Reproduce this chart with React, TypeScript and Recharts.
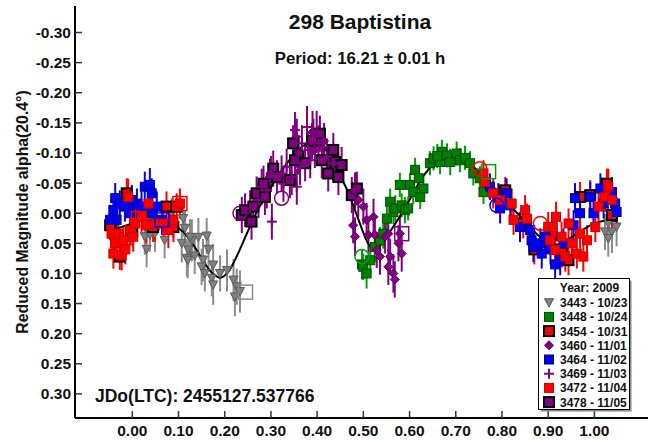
import React from "react"
import { ScatterChart, Scatter, XAxis, YAxis, ErrorBar } from "recharts"

// each point: [phase, reduced magnitude, error]
const s3443 = [
  [0.027, 0.039, 0.03], [0.031, 0.06, 0.03], [0.038, 0.036, 0.028], [0.049, 0.034, 0.03],
  [0.07, 0.045, 0.03], [0.085, 0.0, 0.025], [0.11, 0.009, 0.03], [0.114, 0.025, 0.03],
  [0.107, 0.05, 0.032], [0.121, 0.061, 0.03], [0.129, 0.045, 0.035], [0.118, 0.075, 0.03],
  [0.125, 0.04, 0.03], [0.143, 0.04, 0.032], [0.161, 0.038, 0.03], [0.12, 0.078, 0.03],
  [0.135, 0.071, 0.03], [0.153, 0.078, 0.035], [0.15, 0.089, 0.03], [0.157, 0.1, 0.03],
  [0.175, 0.086, 0.035], [0.172, 0.108, 0.03], [0.175, 0.119, 0.033], [0.219, 0.111, 0.035],
  [0.226, 0.122, 0.03], [0.233, 0.13, 0.035], [0.222, 0.139, 0.032], [0.165, 0.06, 0.03],
  [0.19, 0.1, 0.03], [0.205, 0.095, 0.035], [1.023, 0.031, 0.03], [1.03, 0.017, 0.03],
  [1.038, 0.031, 0.035], [1.03, 0.042, 0.03], [1.048, 0.023, 0.032],
]

const s3448 = [
  [0.497, 0.085, 0.025], [0.5, 0.089, 0.022], [0.507, 0.1, 0.025], [0.515, 0.078, 0.022],
  [0.525, 0.056, 0.025], [0.536, 0.045, 0.022], [0.543, 0.034, 0.025], [0.551, 0.009, 0.02],
  [0.558, -0.019, 0.022], [0.565, -0.002, 0.02], [0.569, -0.008, 0.022], [0.579, -0.047, 0.02],
  [0.583, -0.013, 0.02], [0.59, -0.005, 0.022], [0.597, -0.008, 0.02], [0.601, -0.047, 0.02],
  [0.608, -0.035, 0.02], [0.612, -0.072, 0.02], [0.623, -0.027, 0.02], [0.63, -0.041, 0.022],
  [0.644, -0.083, 0.02], [0.652, -0.091, 0.02], [0.666, -0.085, 0.02], [0.67, -0.102, 0.02],
  [0.681, -0.096, 0.02], [0.688, -0.085, 0.022], [0.702, -0.099, 0.02], [0.709, -0.088, 0.02],
  [0.72, -0.092, 0.02], [0.731, -0.083, 0.02], [0.738, -0.066, 0.02], [0.752, -0.058, 0.02],
  [0.76, -0.035, 0.02], [0.62, -0.058, 0.02], [0.66, -0.095, 0.02],
]

const s3454 = [
  [-0.048, 0.02, 0.025], [-0.027, 0.072, 0.022], [-0.012, -0.033, 0.025], [0.045, 0.023, 0.025],
  [0.074, -0.011, 0.025], [0.096, -0.011, 0.022], [0.089, 0.023, 0.025], [0.0, 0.03, 0.025],
  [0.807, -0.038, 0.022], [0.846, 0.017, 0.025], [0.908, 0.036, 0.025], [0.944, 0.078, 0.025],
  [0.969, -0.027, 0.025], [0.991, -0.03, 0.025], [1.027, -0.049, 0.025], [1.038, 0.003, 0.025],
  [0.87, 0.06, 0.025], [0.93, 0.065, 0.025],
]

const s3460 = [
  [0.482, -0.038, 0.03], [0.489, -0.022, 0.028], [0.478, 0.02, 0.03], [0.482, 0.039, 0.032],
  [0.5, -0.011, 0.03], [0.507, 0.011, 0.028], [0.511, 0.036, 0.03], [0.522, 0.006, 0.03],
  [0.525, 0.036, 0.032], [0.529, 0.061, 0.03], [0.536, 0.072, 0.03], [0.547, 0.039, 0.028],
  [0.554, 0.089, 0.03], [0.558, 0.072, 0.03], [0.565, 0.1, 0.032], [0.576, 0.05, 0.03],
  [0.579, 0.034, 0.03], [0.583, 0.067, 0.03], [0.554, 0.034, 0.03], [0.568, 0.11, 0.03],
  [0.3, -0.065, 0.03], [0.36, -0.1, 0.03], [0.39, -0.135, 0.035], [0.415, -0.12, 0.03],
]

const s3464 = [
  [-0.048, 0.011, 0.025], [-0.041, -0.005, 0.025], [-0.037, -0.025, 0.025], [-0.034, 0.011, 0.025],
  [-0.027, -0.016, 0.022], [-0.016, -0.011, 0.025], [-0.001, -0.022, 0.025], [-0.005, 0.0, 0.022],
  [0.01, -0.016, 0.025], [0.02, -0.011, 0.025], [0.027, -0.044, 0.025], [0.038, -0.047, 0.028],
  [0.042, -0.033, 0.025], [0.042, 0.0, 0.025], [0.053, -0.011, 0.025], [0.064, 0.011, 0.025],
  [0.774, -0.044, 0.022], [0.792, -0.025, 0.025], [0.81, -0.033, 0.025], [0.818, -0.013, 0.022],
  [0.796, -0.008, 0.025], [0.839, 0.023, 0.025], [0.854, 0.011, 0.025], [0.861, 0.028, 0.025],
  [0.864, 0.045, 0.022], [0.868, 0.056, 0.025], [0.883, 0.05, 0.025], [0.886, 0.067, 0.025],
  [0.894, 0.039, 0.025], [0.926, 0.078, 0.025], [0.933, 0.05, 0.025], [0.955, 0.02, 0.025],
  [0.958, -0.025, 0.025], [0.969, 0.0, 0.025], [0.991, -0.027, 0.025], [0.998, 0.0, 0.025],
  [1.013, -0.041, 0.025], [1.02, -0.016, 0.025], [1.038, -0.035, 0.025], [1.045, -0.016, 0.025],
  [1.048, -0.002, 0.025], [0.905, 0.06, 0.025], [0.915, 0.085, 0.025],
]

const s3469 = [
  [0.255, -0.008, 0.03], [0.28, -0.044, 0.03], [0.302, 0.014, 0.03], [0.298, -0.06, 0.03],
  [0.323, -0.066, 0.03], [0.327, -0.049, 0.03], [0.356, -0.044, 0.03], [0.345, -0.06, 0.03],
  [0.352, -0.138, 0.03], [0.356, -0.127, 0.03], [0.367, -0.116, 0.03], [0.378, -0.143, 0.035],
  [0.381, -0.105, 0.03], [0.392, -0.127, 0.03], [0.399, -0.135, 0.035], [0.403, -0.116, 0.03],
  [0.395, -0.105, 0.03], [0.413, -0.11, 0.03], [0.421, -0.094, 0.03], [0.385, -0.088, 0.03],
  [0.363, -0.077, 0.03], [0.435, -0.083, 0.03], [0.334, -0.077, 0.03], [0.291, -0.038, 0.03],
  [0.273, -0.022, 0.03],
]

const s3472 = [
  [-0.045, 0.034, 0.025], [-0.03, 0.034, 0.025], [-0.037, 0.05, 0.028], [-0.041, 0.067, 0.025],
  [-0.023, 0.07, 0.025], [-0.019, 0.045, 0.025], [-0.005, 0.028, 0.025], [0.002, 0.039, 0.025],
  [0.006, 0.017, 0.03], [0.02, 0.006, 0.03], [0.035, -0.016, 0.035], [0.049, 0.017, 0.03],
  [0.067, 0.017, 0.03], [0.078, 0.028, 0.03], [0.089, 0.011, 0.03], [0.103, -0.016, 0.025],
  [-0.009, -0.027, 0.03], [0.03, 0.02, 0.03], [-0.015, 0.06, 0.025],
  [0.76, -0.066, 0.022], [0.763, -0.052, 0.022], [0.781, -0.033, 0.025], [0.796, -0.022, 0.025],
  [0.821, -0.016, 0.025], [0.825, 0.011, 0.025], [0.85, -0.005, 0.025], [0.854, 0.009, 0.025],
  [0.9, 0.023, 0.025], [0.904, 0.045, 0.025], [0.915, 0.061, 0.025], [0.929, 0.039, 0.025],
  [0.937, 0.072, 0.025], [0.951, 0.05, 0.025], [0.962, 0.067, 0.025], [0.976, 0.072, 0.025],
  [0.984, 0.045, 0.025], [1.002, 0.023, 0.025], [1.009, -0.011, 0.025], [1.023, -0.027, 0.025],
  [1.03, -0.044, 0.03], [1.038, -0.022, 0.025], [0.91, 0.023, 0.025], [0.917, 0.006, 0.025],
  [0.944, 0.017, 0.025], [0.969, 0.034, 0.025],
]

const s3478 = [
  [0.237, 0.003, 0.03], [0.244, -0.005, 0.028], [0.258, 0.014, 0.03], [0.262, -0.011, 0.03],
  [0.269, -0.033, 0.028], [0.284, -0.049, 0.03], [0.287, -0.027, 0.03], [0.305, -0.074, 0.03],
  [0.313, -0.06, 0.028], [0.341, -0.055, 0.03], [0.348, -0.116, 0.03], [0.359, -0.094, 0.03],
  [0.352, -0.088, 0.028], [0.374, -0.083, 0.03], [0.406, -0.132, 0.03], [0.41, -0.088, 0.03],
  [0.424, -0.066, 0.03], [0.435, -0.105, 0.028], [0.439, -0.085, 0.03], [0.446, -0.06, 0.03],
  [0.453, -0.08, 0.03], [0.475, -0.03, 0.03], [0.486, -0.041, 0.028], [0.389, -0.12, 0.03],
]

// hollow markers [phase, mag, session]
const openSquares = [
  [0.245, 0.131, "3443"], [0.103, -0.016, "3472"], [0.013, 0.009, "3472"],
  [0.064, 0.011, "3464"], [0.583, 0.034, "3460"], [0.771, -0.069, "3448"],
]
const openCircles = [
  [0.233, 0.0, "3469"], [0.323, -0.025, "3469"], [0.497, 0.072, "3448"],
  [0.752, -0.074, "3472"], [0.789, -0.013, "3464"], [0.883, 0.017, "3472"],
]

// fourier fit
const fitCurve = [
  [-0.05, 0.03], [-0.02, 0.022], [0.0, 0.017], [0.03, 0.012], [0.06, 0.013], [0.09, 0.02],
  [0.11, 0.031], [0.13, 0.05], [0.15, 0.075], [0.17, 0.097], [0.19, 0.107], [0.21, 0.095],
  [0.23, 0.065], [0.25, 0.03], [0.27, -0.003], [0.29, -0.03], [0.31, -0.055], [0.33, -0.078],
  [0.35, -0.097], [0.37, -0.112], [0.39, -0.118], [0.41, -0.112], [0.43, -0.092], [0.45, -0.062],
  [0.47, -0.03], [0.49, 0.012], [0.51, 0.05], [0.525, 0.062], [0.54, 0.05], [0.56, 0.028],
  [0.58, 0.004], [0.6, -0.022], [0.62, -0.05], [0.64, -0.072], [0.66, -0.088], [0.68, -0.096],
  [0.7, -0.096], [0.72, -0.088], [0.74, -0.076], [0.76, -0.06], [0.78, -0.045], [0.8, -0.028],
  [0.82, -0.01], [0.84, 0.005], [0.86, 0.022], [0.88, 0.038], [0.9, 0.05], [0.92, 0.052],
  [0.94, 0.045], [0.96, 0.035], [0.98, 0.025], [1.0, 0.017], [1.03, 0.012], [1.05, 0.013],
]

const xTicks = [0, 0.1, 0.2, 0.3, 0.4, 0.5, 0.6, 0.7, 0.8, 0.9, 1.0]
const yTicks = [-0.3, -0.25, -0.2, -0.15, -0.1, -0.05, 0, 0.05, 0.1, 0.15, 0.2, 0.25, 0.3]
const xDomain = [-0.124, 1.116]
const yDomain = [-0.344, 0.34]

const title = "298 Baptistina"
const subtitle = "Period: 16.21 ± 0.01 h"
const yLabel = "Reduced Magnitude alpha(20.4°)"
const epochText = "JDo(LTC): 2455127.537766"
const legendTitle = "Year: 2009"

const FONT = '"Liberation Sans", Arial, Helvetica, sans-serif'

type Pt = { x: number; y: number; err?: number }
const toPts = (arr: number[][]): Pt[] => arr.map(([x, y, e]) => ({ x, y, err: e }))

// marker drawing
const drawMark = (kind: string, cx: number, cy: number, fill: string, stroke: string, sw: number) => {
  if (kind === "tri") {
    return <polygon points={`${cx - 4.5},${cy - 4} ${cx + 4.5},${cy - 4} ${cx},${cy + 4.5}`} fill={fill} stroke={stroke} strokeWidth={sw} />
  }
  if (kind === "diamond") {
    return <polygon points={`${cx},${cy - 4.5} ${cx + 4.5},${cy} ${cx},${cy + 4.5} ${cx - 4.5},${cy}`} fill={fill} stroke={stroke} strokeWidth={sw} />
  }
  if (kind === "plus") {
    return (
      <g stroke={fill} strokeWidth={2}>
        <line x1={cx - 5} x2={cx + 5} y1={cy} y2={cy} />
        <line x1={cx} x2={cx} y1={cy - 5} y2={cy + 5} />
      </g>
    )
  }
  const h = sw > 1.5 ? 5 : 4.5
  return <rect x={cx - h} y={cy - h} width={h * 2} height={h * 2} fill={fill} stroke={stroke} strokeWidth={sw} />
}

const sessions = [
  { key: "3443", label: "3443 - 10/23", data: s3443, kind: "tri", fill: "#808080", stroke: "#5a5a5a", sw: 1, bar: "#8c8c8c" },
  { key: "3448", label: "3448 - 10/24", data: s3448, kind: "square", fill: "#008000", stroke: "#004d00", sw: 1, bar: "#00a000" },
  { key: "3454", label: "3454 - 10/31", data: s3454, kind: "square", fill: "#ff0000", stroke: "#000000", sw: 2, bar: "#ff0000" },
  { key: "3478", label: "3478 - 11/05", data: s3478, kind: "square", fill: "#800080", stroke: "#000000", sw: 2, bar: "#800080" },
  { key: "3460", label: "3460 - 11/01", data: s3460, kind: "diamond", fill: "#800080", stroke: "#5a005a", sw: 1, bar: "#800080" },
  { key: "3464", label: "3464 - 11/02", data: s3464, kind: "square", fill: "#0000ff", stroke: "#00008b", sw: 1, bar: "#0000ff" },
  { key: "3469", label: "3469 - 11/03", data: s3469, kind: "plus", fill: "#800080", stroke: "#800080", sw: 2, bar: "#800080" },
  { key: "3472", label: "3472 - 11/04", data: s3472, kind: "square", fill: "#ff0000", stroke: "#cc0000", sw: 1, bar: "#ff0000" },
]
const legendOrder = ["3443", "3448", "3454", "3460", "3464", "3469", "3472", "3478"]
const colorOf = (k: string) => sessions.find((s) => s.key === k)!.bar

const tickText = { fontFamily: FONT, fontWeight: 700, fontSize: 15.5, fill: "#111" }

const LeftTick = (props: any) => {
  const { x, y, payload } = props
  return (
    <g>
      <line x1={x} x2={x + 7} y1={y} y2={y} stroke="#333" strokeWidth={1.5} />
      <text x={x - 4} y={y} dy={5.5} textAnchor="end" style={tickText}>
        {payload.value.toFixed(2)}
      </text>
    </g>
  )
}
const RightTick = (props: any) => {
  const { x, y } = props
  return <line x1={x - 7} x2={x} y1={y} y2={y} stroke="#333" strokeWidth={1.5} />
}
const BottomTick = (props: any) => {
  const { x, y, payload } = props
  return (
    <g>
      <line x1={x} x2={x} y1={y} y2={y - 7} stroke="#333" strokeWidth={1.5} />
      <text x={x} y={y + 18} textAnchor="middle" style={tickText}>
        {payload.value.toFixed(2)}
      </text>
    </g>
  )
}
const TopTick = (props: any) => {
  const { x, y } = props
  return <line x1={x} x2={x} y1={y} y2={y + 7} stroke="#333" strokeWidth={1.5} />
}

const NoMark = () => <g />

export default function App() {
  const fit = fitCurve.map(([x, y]) => ({ x, y }))
  const openSq = openSquares.map(([x, y, k]) => ({ x: x as number, y: y as number, k: k as string }))
  const openCi = openCircles.map(([x, y, k]) => ({ x: x as number, y: y as number, k: k as string }))

  return (
    <div style={{ position: "absolute", left: 0, top: 0, width: 652, height: 441, background: "#fff" }}>
      <ScatterChart width={652} height={441} margin={{ top: 6, right: 4, bottom: 0, left: 0 }}>
        <XAxis
          xAxisId="b"
          dataKey="x"
          type="number"
          domain={xDomain}
          allowDataOverflow
          ticks={xTicks}
          interval={0}
          height={23}
          tickSize={0}
          tickMargin={0}
          tickLine={false}
          tick={<BottomTick />}
          axisLine={{ stroke: "#000", strokeWidth: 2 }}
        />
        <XAxis
          xAxisId="t"
          orientation="top"
          type="number"
          domain={xDomain}
          allowDataOverflow
          ticks={xTicks}
          interval={0}
          height={0}
          tickSize={0}
          tickMargin={0}
          tickLine={false}
          tick={<TopTick />}
          axisLine={{ stroke: "#333", strokeWidth: 1.5 }}
        />
        <YAxis
          yAxisId="l"
          dataKey="y"
          type="number"
          reversed
          domain={yDomain}
          allowDataOverflow
          ticks={yTicks}
          interval={0}
          width={75}
          tickSize={0}
          tickMargin={0}
          tickLine={false}
          tick={<LeftTick />}
          axisLine={{ stroke: "#000", strokeWidth: 2 }}
        />
        <YAxis
          yAxisId="r"
          orientation="right"
          type="number"
          reversed
          domain={yDomain}
          allowDataOverflow
          ticks={yTicks}
          interval={0}
          width={0}
          tickSize={0}
          tickMargin={0}
          tickLine={false}
          tick={<RightTick />}
          axisLine={{ stroke: "#777", strokeWidth: 2.5 }}
        />

        <Scatter
          xAxisId="b"
          yAxisId="l"
          data={fit}
          line={{ stroke: "#000", strokeWidth: 2 }}
          lineType="joint"
          lineJointType="monotoneX"
          shape={<NoMark />}
          isAnimationActive={false}
        />

        {sessions.map((s) => (
          <Scatter
            key={s.key}
            xAxisId="b"
            yAxisId="l"
            data={toPts(s.data)}
            isAnimationActive={false}
            shape={(p: any) => drawMark(s.kind, p.cx, p.cy, s.fill, s.stroke, s.sw)}
          >
            <ErrorBar dataKey="err" direction="y" width={0} stroke={s.bar} strokeWidth={2} />
          </Scatter>
        ))}

        <Scatter
          xAxisId="b"
          yAxisId="l"
          data={openSq}
          isAnimationActive={false}
          shape={(p: any) => (
            <rect x={p.cx - 7} y={p.cy - 7} width={14} height={14} fill="none" stroke={colorOf(p.payload.k)} strokeWidth={1.5} />
          )}
        />
        <Scatter
          xAxisId="b"
          yAxisId="l"
          data={openCi}
          isAnimationActive={false}
          shape={(p: any) => (
            <circle cx={p.cx} cy={p.cy} r={7} fill="none" stroke={colorOf(p.payload.k)} strokeWidth={1.5} />
          )}
        />
      </ScatterChart>

      <svg width={652} height={441} style={{ position: "absolute", left: 0, top: 0, pointerEvents: "none" }}>
        <g style={{ fontFamily: FONT, fontWeight: 700 }} fill="#111">
          <text x={360} y={29} textAnchor="middle" fontSize={21}>{title}</text>
          <text x={360} y={64} textAnchor="middle" fontSize={16.8}>{subtitle}</text>
          <text x={27.5} y={212} textAnchor="middle" fontSize={15.8} transform="rotate(-90 27.5 212)">{yLabel}</text>
          <text x={95} y={402} fontSize={17.5}>{epochText}</text>
        </g>

        {/* legend box */}
        <rect x={540.5} y={280.5} width={91} height={131} fill="#888" />
        <rect x={538.5} y={278.5} width={91} height={131} fill="#fff" stroke="#000" strokeWidth={1} />
        <text x={589.5} y={291.5} textAnchor="middle" style={{ fontFamily: FONT, fontWeight: 700, fontSize: 12 }} fill="#111">
          {legendTitle}
        </text>
        {legendOrder.map((k, i) => {
          const s = sessions.find((q) => q.key === k)!
          const cy = 302.7 + 14.2 * i
          return (
            <g key={k}>
              {drawMark(s.kind, 549, cy, s.fill, s.stroke, s.sw)}
              <text x={560} y={cy + 4.4} style={{ fontFamily: FONT, fontWeight: 700, fontSize: 12 }} fill="#111">
                {s.label}
              </text>
            </g>
          )
        })}
      </svg>
    </div>
  )
}
